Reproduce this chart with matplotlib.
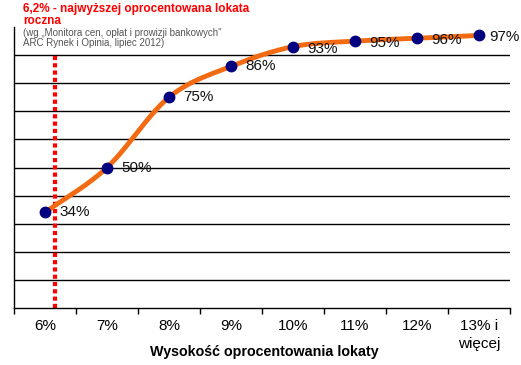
import numpy as np
import matplotlib
matplotlib.use("Agg")
import matplotlib.pyplot as plt

categories = ["6%", "7%", "8%", "9%", "10%", "11%", "12%", "13% i\nwięcej"]
values = [34, 50, 75, 86, 93, 95, 96, 97]
labels = ["34%", "50%", "75%", "86%", "93%", "95%", "96%", "97%"]
best_rate_pos = 0.16  # 6,2% on the category scale

plt.rcParams['font.family'] = ['Liberation Sans', 'DejaVu Sans']

fig = plt.figure(figsize=(5.21, 3.65), dpi=100)
ax = fig.add_axes([14/521, 1-308/365, (510-14)/521, (308-27)/365])

x = np.arange(len(values), dtype=float)
y = np.array(values, dtype=float)

# Catmull-Rom smoothing between the data points (like Excel smoothed line)
def catmull(xp, yp, n=30):
    P = np.column_stack([xp, yp])
    P = np.vstack([P[0] - (P[1] - P[0]), P, P[-1] + (P[-1] - P[-2])])
    out = []
    for i in range(1, len(P) - 2):
        p0, p1, p2, p3 = P[i-1], P[i], P[i+1], P[i+2]
        t = np.linspace(0, 1, n)[:, None]
        seg = 0.5 * ((2*p1) + (-p0 + p2)*t + (2*p0 - 5*p1 + 4*p2 - p3)*t**2
                     + (-p0 + 3*p1 - 3*p2 + p3)*t**3)
        out.append(seg if i == 1 else seg[1:])
    return np.vstack(out)

curve = catmull(x, y)

for g in range(10, 100, 10):
    ax.axhline(g, color='black', lw=1.0, zorder=1)

ax.plot([best_rate_pos, best_rate_pos], [0, 90], color='#ff0000', lw=3,
        linestyle=(0, (1, 0.75)), solid_capstyle='butt', dash_capstyle='butt', zorder=2)

ax.plot(curve[:, 0], curve[:, 1], color='#f26b12', lw=3.5, solid_capstyle='round', zorder=3)
ax.plot(x, y, 'o', color='#000080', ms=7.5, zorder=4, clip_on=False)

n = len(values)
for i, (xi, yi, lab) in enumerate(zip(x, y, labels)):
    dy = -0.7 if yi >= 90 else 0
    off = 0.17 if i == n - 1 else 0.235
    ax.text(xi + off, yi + dy, lab, fontsize=11, va='center', ha='left', zorder=5, color='#111111')

ax.set_xlim(-0.5, 7.5)
ax.set_ylim(0, 100)
ax.set_xticks(np.arange(-0.5, 8.0, 1.0))
ax.set_xticklabels([])
ax.set_xticks(x, minor=True)
ax.set_xticklabels(categories, minor=True, fontsize=11, linespacing=1.35)
ax.tick_params(axis='x', which='major', direction='out', length=4, width=1)
ax.tick_params(axis='x', which='minor', length=0, pad=8)
ax.set_yticks([])
for s in ['top', 'right']:
    ax.spines[s].set_visible(False)
ax.spines['left'].set_linewidth(1)
ax.spines['bottom'].set_linewidth(1)

fig.text(264/521, 1-352/365, "Wysokość oprocentowania lokaty", fontsize=10.3, fontweight='bold',
         ha='center', va='center')

fig.text(23/521, 1-3/365, "6,2% - najwyższej oprocentowana lokata\nroczna", color='#ff0000',
         fontsize=8.5, fontweight='bold', va='top', ha='left', linespacing=1.05)
fig.text(23/521, 1-28/365, "(wg „Monitora cen, opłat i prowizji bankowych\"\nARC Rynek i Opinia, lipiec 2012)",
         color='#555555', fontsize=7, va='top', ha='left', linespacing=1.0)

fig.savefig("out.png", dpi=100)
